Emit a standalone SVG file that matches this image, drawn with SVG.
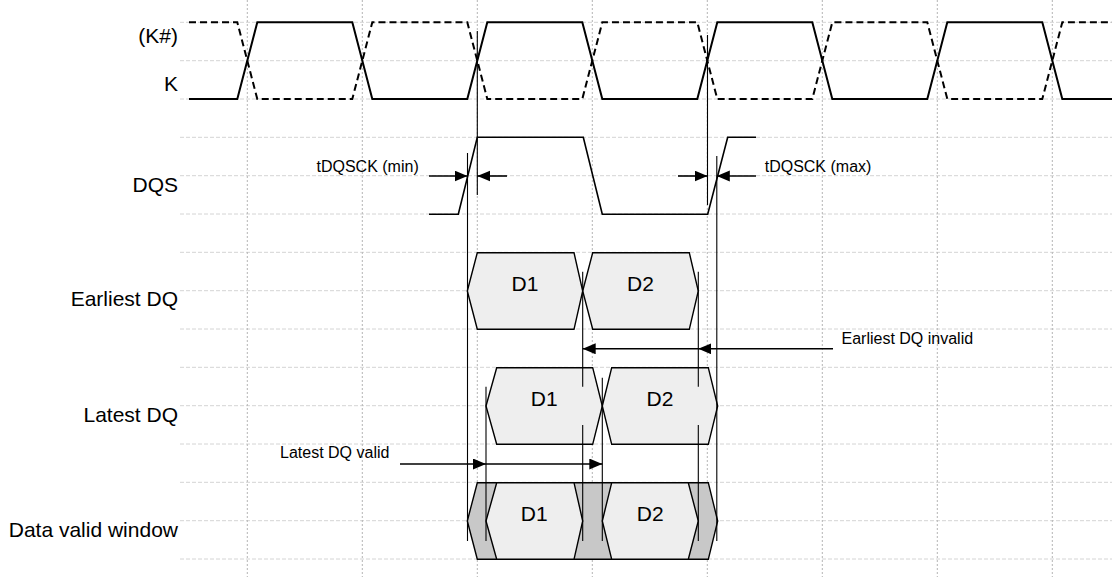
<svg xmlns="http://www.w3.org/2000/svg" width="1112" height="577" viewBox="0 0 1112 577">
<style>
.hg{stroke:#d4d4d4;stroke-width:1;stroke-dasharray:4,2;fill:none}
.vg{stroke:#b4b4b4;stroke-width:1;stroke-dasharray:2,2;fill:none}
.k{stroke:#000;stroke-width:2;fill:none}
.kn{stroke:#000;stroke-width:2;fill:none;stroke-dasharray:7,4}
.dqs{stroke:#000;stroke-width:1.6;fill:none}
.hex{fill:#eeeeee;stroke:#000;stroke-width:1.4}
.dark{fill:#c8c8c8;stroke:#000;stroke-width:1.4}
.ref{stroke:#000;stroke-width:1.1;fill:none}
.arr{stroke:#000;stroke-width:1.6;fill:none;marker-end:url(#ah)}
.lbl{font-family:"Liberation Sans",Arial,sans-serif;font-size:21px;fill:#000;text-anchor:end}
.d{font-family:"Liberation Sans",Arial,sans-serif;font-size:21px;fill:#000;text-anchor:middle}
.sm{font-family:"Liberation Sans",Arial,sans-serif;font-size:16px;fill:#000}
</style>
<defs>
<marker id="ah" markerUnits="userSpaceOnUse" markerWidth="14" markerHeight="12" refX="13" refY="5.5" orient="auto">
<path d="M0,0 L13,5.5 L0,11 z" fill="#000"/>
</marker>
</defs>
<g id="grid">
<path class="hg" d="M180,22.3H1112M180,60.7H1112M180,99H1112M180,137.3H1112M180,175.7H1112M180,214H1112M180,252.3H1112M180,290.7H1112M180,329H1112M180,367.3H1112M180,405.7H1112M180,444H1112M180,482.3H1112M180,520.7H1112M180,559H1112"/>
<path class="vg" d="M247.3,0V577M362.3,0V577M477.3,0V577M592.3,0V577M707.3,0V577M822.3,0V577M937.3,0V577M1052.3,0V577"/>
</g>
<g id="labels">
<text class="lbl" x="178" y="42.7">(K#)</text>
<text class="lbl" x="178" y="91">K</text>
<text class="lbl" x="178" y="191.5">DQS</text>
<text class="lbl" x="178" y="306">Earliest DQ</text>
<text class="lbl" x="178" y="421.7">Latest DQ</text>
<text class="lbl" x="178" y="536.7">Data valid window</text>
</g>
<g id="clock-knot">
<polyline class="kn" points="189,22.3 237.3,22.3 257.3,99 352.3,99 372.3,22.3 467.3,22.3 487.3,99 582.3,99 602.3,22.3 697.3,22.3 717.3,99 812.3,99 832.3,22.3 927.3,22.3 947.3,99 1042.3,99 1062.3,22.3 1112,22.3"/>
</g>
<g id="clock-k">
<polyline class="k" points="189,99 237.3,99 257.3,22.3 352.3,22.3 372.3,99 467.3,99 487.3,22.3 582.3,22.3 602.3,99 697.3,99 717.3,22.3 812.3,22.3 832.3,99 927.3,99 947.3,22.3 1042.3,22.3 1062.3,99 1112,99"/>
</g>
<g id="dqs">
<polyline class="dqs" points="429,214.3 458.3,214.3 477.3,137.3 583.3,137.3 602.3,214.3 707.7,214.3 727.7,137.3 756,137.3"/>
</g>
<g id="earliest-dq">
<polygon class="hex" points="467.3,291 477.3,252.7 574,252.7 582.7,291 574,329.3 477.3,329.3"/>
<polygon class="hex" points="582.7,291 592.7,252.7 689.3,252.7 698.3,291 689.3,329.3 592.7,329.3"/>
<text class="d" x="525" y="291">D1</text>
<text class="d" x="640.5" y="291">D2</text>
</g>
<g id="latest-dq">
<polygon class="hex" points="486,406 496.7,367.7 592.7,367.7 602.3,406 592.7,444.3 496.7,444.3"/>
<polygon class="hex" points="602.3,406 611.7,367.7 708.3,367.7 717.7,406 708.3,444.3 611.7,444.3"/>
<text class="d" x="544.2" y="406">D1</text>
<text class="d" x="660" y="406">D2</text>
</g>
<g id="data-valid-window">
<polygon class="dark" points="467.3,521 477.3,482.7 708.3,482.7 717.7,521 708.3,559.3 477.3,559.3"/>
<polygon class="hex" points="486,521 496.7,482.7 574,482.7 582.7,521 574,559.3 496.7,559.3"/>
<polygon class="hex" points="602.3,521 611.7,482.7 688.3,482.7 698.3,521 688.3,559.3 611.7,559.3"/>
<text class="d" x="534.3" y="521">D1</text>
<text class="d" x="650.3" y="521">D2</text>
</g>
<g id="connectors">
<path class="ref" d="M477.3,31V195M467.5,153V541M707.5,35V205M716.8,156V541M582.7,271.7V386.7M582.7,425V541M698.3,271.7V386.7M698.3,425V541M486,386.7V541M602.3,377.7V541"/>
<line class="arr" x1="429" y1="176" x2="467.5" y2="176"/>
<line class="arr" x1="507" y1="176" x2="477.3" y2="176"/>
<line class="arr" x1="678" y1="176" x2="707.5" y2="176"/>
<line class="arr" x1="756" y1="176" x2="716.8" y2="176"/>
<line class="arr" x1="833" y1="348.8" x2="698.3" y2="348.8"/>
<line class="arr" x1="698.3" y1="348.8" x2="582.7" y2="348.8"/>
<line class="arr" x1="400" y1="464" x2="486" y2="464"/>
<line class="arr" x1="486" y1="464" x2="602.3" y2="464"/>
</g>
<g id="annotations">
<text class="sm" x="316.5" y="171.7">tDQSCK (min)</text>
<text class="sm" x="764.7" y="171.7">tDQSCK (max)</text>
<text class="sm" x="841.5" y="344">Earliest DQ invalid</text>
<text class="sm" x="280" y="458.3">Latest DQ valid</text>
</g>
</svg>
